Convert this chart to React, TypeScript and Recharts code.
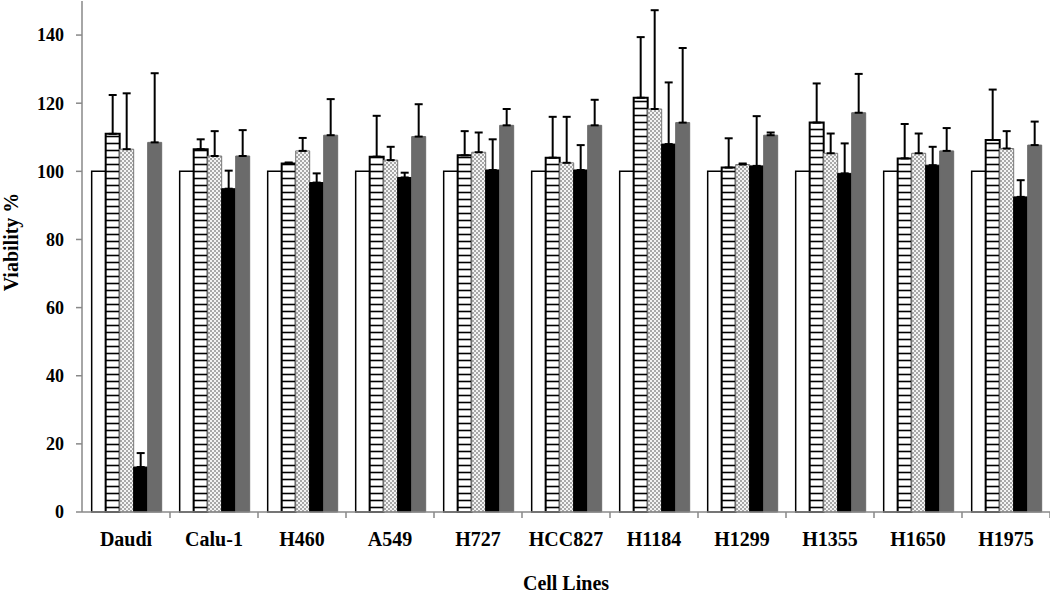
import React from 'react';
import { BarChart, Bar, XAxis, YAxis, ErrorBar, Label } from 'recharts';

const categories = ['Daudi', 'Calu-1', 'H460', 'A549', 'H727', 'HCC827', 'H1184', 'H1299', 'H1355', 'H1650', 'H1975'];
const control = [100, 100, 100, 100, 100, 100, 100, 100, 100, 100, 100];
const striped = [111, 106.5, 102.3, 104.3, 104.7, 104, 121.6, 101.1, 114.3, 103.8, 109.2];
const stripedErr = [11.4, 2.9, 0.3, 12, 7.1, 12, 17.8, 8.6, 11.5, 10.1, 14.8];
const hatched = [106.5, 104.5, 106, 103.3, 105.6, 102.5, 118.3, 102, 105.3, 105.3, 106.7];
const hatchedErr = [16.4, 7.3, 3.8, 3.9, 5.8, 13.5, 29, 0.3, 5.8, 5.8, 5.1];
const black = [13.2, 94.9, 96.7, 98.2, 100.4, 100.4, 108, 101.6, 99.4, 101.8, 92.5];
const blackErr = [4.1, 5.3, 2.7, 1.4, 9, 7.3, 18.1, 14.6, 8.8, 5.4, 4.9];
const gray = [108.5, 104.5, 110.6, 110.2, 113.5, 113.5, 114.3, 110.6, 117.2, 106, 107.7];
const grayErr = [20.3, 7.6, 10.6, 9.5, 4.8, 7.5, 21.9, 0.8, 11.4, 6.7, 6.9];
const yTicks = [0, 20, 40, 60, 80, 100, 120, 140];

const data = categories.map((name, i) => ({
  name,
  control: control[i],
  striped: striped[i],
  stripedErr: [0, stripedErr[i]],
  hatched: hatched[i],
  hatchedErr: [0, hatchedErr[i]],
  black: black[i],
  blackErr: [0, blackErr[i]],
  gray: gray[i],
  grayErr: [0, grayErr[i]],
}));

const FONT = '"Liberation Serif", "Times New Roman", serif';

const YTitle = (props: any) => {
  const vb = props.viewBox || { x: 0, y: 0, width: 0, height: 0 };
  const cx = vb.x + 18;
  const cy = 242;
  return (
    <text
      x={cx}
      y={cy}
      transform={`rotate(-90, ${cx}, ${cy})`}
      textAnchor="middle"
      fontFamily={FONT}
      fontWeight="bold"
      fontSize={20}
      fill="#000"
    >
      Viability %
    </text>
  );
};

const XTick = (props: any) => {
  const { x, y, payload } = props;
  const half = payload && typeof payload.offset === 'number' ? payload.offset : 0;
  const axisY = y - 20;
  return (
    <g>
      <line x1={x + half} y1={axisY} x2={x + half} y2={axisY + 6} stroke="#888" strokeWidth={1.5} />
      <text
        x={x}
        y={y}
        dy="0.71em"
        textAnchor="middle"
        fontFamily={FONT}
        fontWeight="bold"
        fontSize={20}
        fill="#000"
      >
        {payload.value}
      </text>
    </g>
  );
};

export default function App() {
  return (
    <div style={{ position: 'absolute', left: 0, top: 0, width: 1050, height: 594, background: '#fff' }}>
      <BarChart
        width={1050}
        height={594}
        data={data}
        margin={{ top: 1, right: 0, bottom: 0, left: 0 }}
        barCategoryGap="11%"
        barGap={0}
      >
        <defs>
          <pattern id="hstripe" patternUnits="userSpaceOnUse" width="8" height="7">
            <rect x="0" y="0" width="8" height="7" fill="#fff" />
            <line x1="0" y1="3.5" x2="8" y2="3.5" stroke="#000" strokeWidth="1.6" />
          </pattern>
          <pattern id="hatch" patternUnits="userSpaceOnUse" width="4" height="4">
            <rect x="0" y="0" width="4" height="4" fill="#f4f4f4" />
            <rect x="0" y="0" width="2" height="2" fill="#a8a8a8" />
            <rect x="2" y="2" width="2" height="2" fill="#a8a8a8" />
          </pattern>
        </defs>
        <XAxis
          dataKey="name"
          height={82}
          axisLine={{ stroke: '#888', strokeWidth: 1.5 }}
          tickLine={false}
          tickSize={0}
          tickMargin={20}
          interval={0}
          tick={<XTick />}
        >
          <Label
            value="Cell Lines"
            position="insideBottom"
            offset={4}
            style={{ fill: '#000', fontFamily: FONT, fontWeight: 'bold', fontSize: 20 }}
          />
        </XAxis>
        <YAxis
          width={82}
          domain={[0, 150]}
          ticks={yTicks}
          interval={0}
          axisLine={{ stroke: '#888', strokeWidth: 1.5 }}
          tickLine={{ stroke: '#888', strokeWidth: 1.5 }}
          tickSize={6}
          tickMargin={12}
          tick={{ fill: '#000', fontFamily: FONT, fontWeight: 'bold', fontSize: 18 }}
        >
          <Label content={YTitle} />
        </YAxis>
        <Bar dataKey="control" fill="#fff" stroke="#000" strokeWidth={1.5} isAnimationActive={false} />
        <Bar dataKey="striped" fill="url(#hstripe)" stroke="#000" strokeWidth={2} isAnimationActive={false}>
          <ErrorBar dataKey="stripedErr" width={4} stroke="#000" strokeWidth={2} direction="y" />
        </Bar>
        <Bar dataKey="hatched" fill="url(#hatch)" stroke="#777" strokeWidth={1} isAnimationActive={false}>
          <ErrorBar dataKey="hatchedErr" width={4} stroke="#000" strokeWidth={2} direction="y" />
        </Bar>
        <Bar dataKey="black" fill="#000" stroke="#000" strokeWidth={1} isAnimationActive={false}>
          <ErrorBar dataKey="blackErr" width={4} stroke="#000" strokeWidth={2} direction="y" />
        </Bar>
        <Bar dataKey="gray" fill="#6b6b6b" stroke="#6b6b6b" strokeWidth={1} isAnimationActive={false}>
          <ErrorBar dataKey="grayErr" width={4} stroke="#000" strokeWidth={2} direction="y" />
        </Bar>
      </BarChart>
    </div>
  );
}
